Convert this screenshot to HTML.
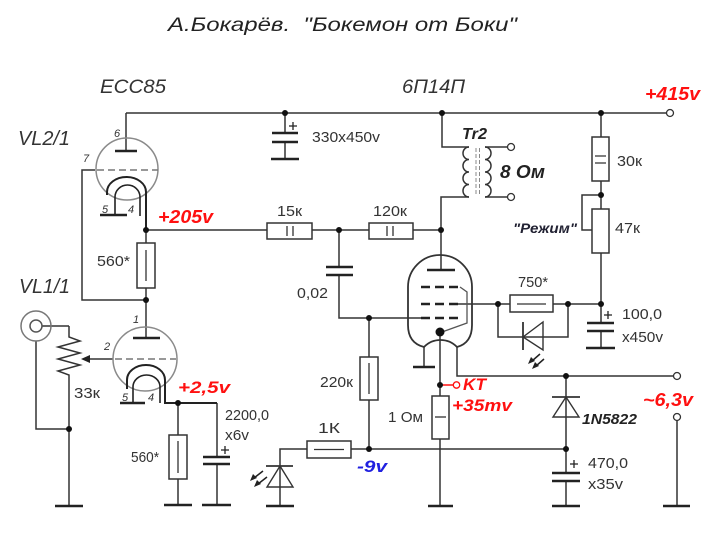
<!DOCTYPE html>
<html><head><meta charset="utf-8">
<style>
html,body{margin:0;padding:0;background:#fff;}
svg{display:block;}
.w{stroke:#333;stroke-width:1.5;fill:none;}
.g{stroke:#222;stroke-width:2.5;fill:none;}
.r{stroke:#333;stroke-width:1.5;fill:#fff;}
.env{stroke:#8a8a8a;stroke-width:1.5;fill:none;}
text{font-family:"Liberation Sans","DejaVu Sans",sans-serif;}
.t{font-size:15px;fill:#333;}
.bi{font-weight:bold;font-style:italic;}
.red{fill:#ff1010;}
.pin{font-size:11px;fill:#333;font-style:italic;}
</style></head>
<body>
<svg width="709" height="535" viewBox="0 0 709 535" xmlns="http://www.w3.org/2000/svg">
<rect width="709" height="535" fill="#fff"/>

<!-- Title -->
<text x="168" y="31" font-size="19" font-style="italic" fill="#222" textLength="349" lengthAdjust="spacingAndGlyphs">А.Бокарёв.&#160; "Бокемон от Боки"</text>

<text x="100" y="93" font-size="19" font-style="italic" fill="#333" textLength="66" lengthAdjust="spacingAndGlyphs">ECC85</text>
<text x="402" y="93" font-size="19" font-style="italic" fill="#333" textLength="63" lengthAdjust="spacingAndGlyphs">6П14П</text>
<text x="18" y="145" font-size="20" font-style="italic" fill="#333" textLength="52" lengthAdjust="spacingAndGlyphs">VL2/1</text>
<text x="19" y="293" font-size="20" font-style="italic" fill="#333" textLength="51" lengthAdjust="spacingAndGlyphs">VL1/1</text>

<!-- ===== wires ===== -->
<path class="w" d="M126,113 H666"/>
<path class="w" d="M126,113 V151"/>
<path class="w" d="M285,113 V133 M285,142 V159"/>
<path class="w" d="M442,113 V147 H469 M469,197 H441 V270"/>
<path class="w" d="M485,147 H507.5 M485,197 H507.5"/>
<path class="w" d="M601,113 V137 M601,181 V209 M601,253 V323 M601,331 V348"/>
<path class="w" d="M601,195 H582 V230 H592"/>
<path class="w" d="M146,230 H267 M312,230 H369 M413,230 H441"/>
<path class="w" d="M146,230 V243 M146,288 V338"/>
<path class="w" d="M95,170 H82 V300 H146"/>
<path class="w" d="M339,230 V267 M339,275 V318 H421"/>
<path class="w" d="M369,318 V357 M369,400 V449"/>
<path class="w" d="M280,466 V449 H307 M351,449 H566"/>
<path class="w" d="M280,466 V506"/>
<path class="w" d="M440,332 V396 M440,439 V506"/>
<path d="M440,385 H453" stroke="#ff1010" stroke-width="1.5"/>
<path class="w" d="M424,347 V367 M457,347 V376 H673.5"/>
<path class="w" d="M458,304 H510 M553,304 H601"/>
<path class="w" d="M498,304 V337 H568 V304"/>
<path class="w" d="M566,376 V473 M566,481 V506"/>
<path class="w" d="M677,420.5 V506"/>
<path class="w" d="M113,359 H88"/>
<polygon points="81,359 90,355 90,363" fill="#222"/>
<polyline class="w" points="69,326 69,337 80,341 58,347 80,353 58,359 80,365 58,371 69,375 69,506"/>
<path class="w" d="M42,326 H69 M36,341 V429 H69"/>
<path class="w" d="M217,403 V457 M217,464 V505"/>
<path class="w" d="M178,403 V435 M178,479 V505"/>

<!-- ===== VL2/1 tube ===== -->
<circle class="env" cx="127" cy="169" r="31"/>
<path class="g" d="M115,151 H137"/>
<path d="M97,170 H158" stroke="#777" stroke-width="1.5" stroke-dasharray="7,4"/>
<path d="M107,195 V192 A19.5,15 0 0 1 146,192 V230" stroke="#222" stroke-width="2" fill="none"/>
<path d="M115,215 V197 A12.5,12 0 0 1 140,197 V216" stroke="#222" stroke-width="1.6" fill="none"/>
<path class="g" d="M100,215 H127"/>
<text class="pin" x="114" y="137">6</text>
<text class="pin" x="83" y="162">7</text>
<text class="pin" x="102" y="213">5</text>
<text class="pin" x="128" y="213">4</text>

<!-- ===== VL1/1 tube ===== -->
<circle class="env" cx="145" cy="359" r="32"/>
<path class="g" d="M133,338 H160"/>
<path d="M115,359 H176" stroke="#777" stroke-width="1.5" stroke-dasharray="7,4"/>
<path d="M127,389 V380 A19,15 0 0 1 165,380 V403 H217" stroke="#222" stroke-width="2" fill="none"/>
<path d="M133,403 V387 A13.5,12 0 0 1 160,387 V403" stroke="#222" stroke-width="1.6" fill="none"/>
<path class="g" d="M120,403 H145"/>
<text class="pin" x="133" y="323">1</text>
<text class="pin" x="104" y="350">2</text>
<text class="pin" x="122" y="401">5</text>
<text class="pin" x="148" y="401">4</text>

<!-- input jack -->
<circle cx="36" cy="326" r="15" stroke="#777" stroke-width="1.5" fill="none"/>
<circle cx="36" cy="326" r="6" stroke="#555" stroke-width="1.5" fill="none"/>

<!-- ===== Output tube ===== -->
<path d="M408,287 A32,32 0 0 1 472,287 L472,325 Q472,343 457,347 A23,23 0 0 0 424,347 Q408,343 408,325 Z" stroke="#333" stroke-width="1.8" fill="none"/>
<path class="g" d="M427,270 H455"/>
<path d="M421,287 H460 M421,304 H460 M421,318 H460" stroke="#222" stroke-width="2.5" stroke-dasharray="9,5"/>
<polyline points="460,287 467,292 467,323 442,332" stroke="#555" stroke-width="1.3" fill="none"/>
<circle cx="440" cy="332" r="4.5" fill="#111"/>
<path class="g" d="M413,367 H435"/>

<!-- Transformer -->
<path class="w" d="M469,147 a6,6.25 0 0 0 0,12.5 a6,6.25 0 0 0 0,12.5 a6,6.25 0 0 0 0,12.5 a6,6.25 0 0 0 0,12.5"/>
<path class="w" d="M485,147 a6,6.25 0 0 1 0,12.5 a6,6.25 0 0 1 0,12.5 a6,6.25 0 0 1 0,12.5 a6,6.25 0 0 1 0,12.5"/>
<path d="M476,148 V196 M479.5,148 V196" stroke="#888" stroke-width="1" stroke-dasharray="4,2"/>

<!-- ===== capacitors ===== -->
<path class="g" d="M272,133 H298 M272,142 H298"/>
<path class="g" d="M326,267 H353 M326,275 H353"/>
<path class="g" d="M203,457 H230 M203,464 H230"/>
<path class="g" d="M587,323 H614 M587,331 H614"/>
<path class="g" d="M552,473 H580 M552,481 H580"/>
<path d="M289,126 H297 M293,122 V130 M221,450 H229 M225,446 V454 M604,315 H612 M608,311 V319 M570,464 H578 M574,460 V468" stroke="#222" stroke-width="1.3"/>

<!-- grounds -->
<path class="g" d="M271,159 H299 M55,506 H83 M164,505 H192 M202,505 H231 M266,506 H294 M428,506 H453 M552,506 H580 M663,506 H690 M586,348 H615"/>

<!-- ===== resistors ===== -->
<rect class="r" x="267" y="223" width="45" height="16"/>
<path d="M287,226 V236 M293,226 V236" stroke="#333" stroke-width="1.3"/>
<rect class="r" x="369" y="223" width="44" height="16"/>
<path d="M387,226 V236 M393,226 V236" stroke="#333" stroke-width="1.3"/>
<rect class="r" x="137" y="243" width="18" height="45"/>
<path d="M146,250 V281" stroke="#333" stroke-width="1.3"/>
<rect class="r" x="169" y="435" width="18" height="44"/>
<path d="M178,441 V473" stroke="#333" stroke-width="1.3"/>
<rect class="r" x="360" y="357" width="18" height="43"/>
<path d="M369,363 V394" stroke="#333" stroke-width="1.3"/>
<rect class="r" x="432" y="396" width="17" height="43"/>
<path d="M435,417 H446" stroke="#333" stroke-width="1.3"/>
<rect class="r" x="307" y="441" width="44" height="17"/>
<path d="M314,449.5 H344" stroke="#333" stroke-width="1.3"/>
<rect class="r" x="510" y="295" width="43" height="17"/>
<path d="M517,304 H546" stroke="#333" stroke-width="1.3"/>
<rect class="r" x="592" y="137" width="17" height="44"/>
<path d="M595,156 H606 M595,163 H606" stroke="#333" stroke-width="1.3"/>
<rect class="r" x="592" y="209" width="17" height="44"/>

<!-- ===== diodes ===== -->
<path d="M552,397 H580" stroke="#333" stroke-width="1.8"/>
<polygon points="566,397 553,417 579,417" stroke="#333" stroke-width="1.4" fill="none"/>
<path d="M266,466 H293" stroke="#333" stroke-width="1.8"/>
<polygon points="280,466 267,487 293,487" stroke="#333" stroke-width="1.4" fill="none"/>
<path d="M263,471 L254,478 M267,477 L258,484" stroke="#222" stroke-width="1.5"/>
<polygon points="250,481 253,474 257,478" fill="#222"/>
<polygon points="254,487 257,480 261,484" fill="#222"/>
<path d="M523,322 V350" stroke="#333" stroke-width="1.8"/>
<polygon points="523,337 543,322 543,350" stroke="#333" stroke-width="1.4" fill="none"/>
<path d="M540,354 L532,361 M544,359 L536,366" stroke="#222" stroke-width="1.5"/>
<polygon points="528,364 531,357 535,361" fill="#222"/>
<polygon points="532,369 535,362 539,366" fill="#222"/>

<!-- junction dots -->
<g fill="#111">
<circle cx="285" cy="113" r="3"/><circle cx="442" cy="113" r="3"/><circle cx="601" cy="113" r="3"/>
<circle cx="146" cy="230" r="3"/><circle cx="339" cy="230" r="3"/><circle cx="441" cy="230" r="3"/>
<circle cx="146" cy="300" r="3"/><circle cx="178" cy="403" r="3"/><circle cx="69" cy="429" r="3"/>
<circle cx="369" cy="318" r="3"/><circle cx="369" cy="449" r="3"/><circle cx="440" cy="385" r="3"/>
<circle cx="498" cy="304" r="3"/><circle cx="568" cy="304" r="3"/><circle cx="601" cy="304" r="3"/>
<circle cx="601" cy="195" r="3"/><circle cx="566" cy="376" r="3"/><circle cx="566" cy="449" r="3"/>
</g>

<!-- terminals -->
<g fill="#fff" stroke="#333" stroke-width="1.3">
<circle cx="670" cy="113" r="3.5"/><circle cx="511" cy="147" r="3.5"/><circle cx="511" cy="197" r="3.5"/>
<circle cx="677" cy="376" r="3.5"/><circle cx="677" cy="417" r="3.5"/>
</g>
<circle cx="456.5" cy="385" r="3.2" fill="#fff" stroke="#ff1010" stroke-width="1.3"/>

<!-- ===== labels ===== -->
<text class="bi red" x="645" y="100" font-size="18" textLength="55" lengthAdjust="spacingAndGlyphs">+415v</text>
<text class="bi red" x="158" y="223" font-size="18" textLength="55" lengthAdjust="spacingAndGlyphs">+205v</text>
<text class="bi red" x="178" y="393" font-size="17" textLength="52" lengthAdjust="spacingAndGlyphs">+2,5v</text>
<text class="bi red" x="463" y="390" font-size="17" textLength="23" lengthAdjust="spacingAndGlyphs">KT</text>
<text class="bi red" x="452" y="411" font-size="17" textLength="60" lengthAdjust="spacingAndGlyphs">+35mv</text>
<text class="bi red" x="643" y="406" font-size="18" textLength="50" lengthAdjust="spacingAndGlyphs">~6,3v</text>
<text class="bi" x="357" y="472" font-size="17" fill="#2020e0" textLength="30" lengthAdjust="spacingAndGlyphs">-9v</text>
<text class="bi" x="462" y="139" font-size="16" fill="#222" textLength="25" lengthAdjust="spacingAndGlyphs">Tr2</text>
<text class="bi" x="500" y="178" font-size="18" fill="#222" textLength="45" lengthAdjust="spacingAndGlyphs">8 Ом</text>
<text class="bi" x="582" y="424" font-size="15" fill="#222" textLength="55" lengthAdjust="spacingAndGlyphs">1N5822</text>
<text class="bi" x="513" y="233" font-size="14" fill="#223" textLength="64" lengthAdjust="spacingAndGlyphs">"Режим"</text>

<text class="t" x="312" y="142" textLength="68" lengthAdjust="spacingAndGlyphs">330x450v</text>
<text class="t" x="277" y="216" textLength="25" lengthAdjust="spacingAndGlyphs">15к</text>
<text class="t" x="373" y="216" textLength="34" lengthAdjust="spacingAndGlyphs">120к</text>
<text class="t" x="297" y="298" textLength="31" lengthAdjust="spacingAndGlyphs">0,02</text>
<text class="t" x="617" y="166" textLength="25" lengthAdjust="spacingAndGlyphs">30к</text>
<text class="t" x="615" y="233" textLength="25" lengthAdjust="spacingAndGlyphs">47к</text>
<text class="t" x="518" y="287" textLength="30" lengthAdjust="spacingAndGlyphs">750*</text>
<text class="t" x="622" y="319" textLength="40" lengthAdjust="spacingAndGlyphs">100,0</text>
<text class="t" x="622" y="342" textLength="41" lengthAdjust="spacingAndGlyphs">x450v</text>
<text class="t" x="588" y="468" textLength="40" lengthAdjust="spacingAndGlyphs">470,0</text>
<text class="t" x="588" y="489" textLength="35" lengthAdjust="spacingAndGlyphs">x35v</text>
<text class="t" x="320" y="387" textLength="33" lengthAdjust="spacingAndGlyphs">220к</text>
<text class="t" x="388" y="422" textLength="35" lengthAdjust="spacingAndGlyphs">1 Ом</text>
<text class="t" x="318" y="433" textLength="22" lengthAdjust="spacingAndGlyphs">1К</text>
<text class="t" x="225" y="420" textLength="44" lengthAdjust="spacingAndGlyphs">2200,0</text>
<text class="t" x="225" y="440" textLength="24" lengthAdjust="spacingAndGlyphs">x6v</text>
<text class="t" x="97" y="266" textLength="33" lengthAdjust="spacingAndGlyphs">560*</text>
<text class="t" x="131" y="462" textLength="28" lengthAdjust="spacingAndGlyphs">560*</text>
<text class="t" x="74" y="398" textLength="26" lengthAdjust="spacingAndGlyphs">33к</text>
</svg>
</body></html>
